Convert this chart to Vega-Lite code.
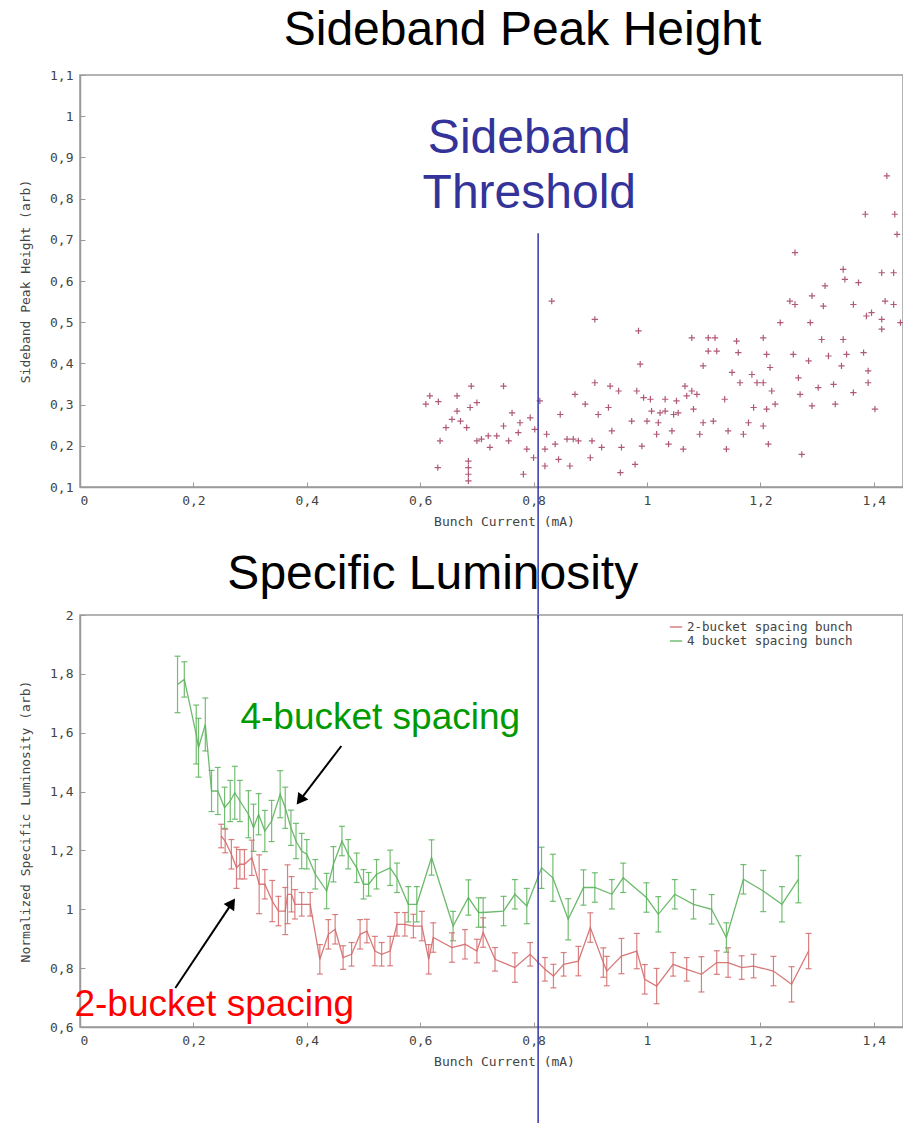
{
  "$schema": "https://vega.github.io/schema/vega-lite/v6.json",
  "padding": {"left": 18, "top": 6, "right": 0, "bottom": 0},
  "bounds": "flush",
  "spacing": 128,
  "background": "white",
  "config": {
    "view": {"stroke": "#9a9a9a", "strokeWidth": 1.5},
    "axis": {
      "grid": false,
      "domainColor": "#9a9a9a",
      "domainWidth": 1.5,
      "tickColor": "#9a9a9a",
      "tickSize": -5,
      "labelFont": "DejaVu Sans Mono",
      "labelFontSize": 13,
      "labelColor": "#444",
      "labelPadding": 12,
      "titleFont": "DejaVu Sans Mono",
      "titleFontSize": 13,
      "titleFontWeight": "normal",
      "titleColor": "#444",
      "labelExpr": "replace(format(datum.value, '~g'), '.', ',')"
    },
    "axisX": {"titleX": 424, "titleY": 34, "titleBaseline": "middle", "titleAlign": "center"},
    "axisY": {"titlePadding": 17}
  },
  "datasets": {
    "sideband": [
      {"current":0.617,"height":0.321},{"current":0.610,"height":0.301},{"current":0.632,"height":0.307},{"current":0.6455,"height":0.244},{"current":0.635,"height":0.212},{"current":0.631,"height":0.147},
      {"current":0.656,"height":0.264},{"current":0.665,"height":0.321},{"current":0.665,"height":0.284},{"current":0.671,"height":0.260},{"current":0.682,"height":0.244},{"current":0.688,"height":0.293},{"current":0.690,"height":0.345},{"current":0.700,"height":0.305},{"current":0.685,"height":0.163},{"current":0.685,"height":0.147},{"current":0.685,"height":0.131},{"current":0.685,"height":0.115},{"current":0.700,"height":0.212},{"current":0.708,"height":0.216},{"current":0.723,"height":0.196},{"current":0.720,"height":0.224},{"current":0.735,"height":0.224},{"current":0.747,"height":0.345},{"current":0.747,"height":0.248},{"current":0.756,"height":0.212},{"current":0.762,"height":0.280},{"current":0.773,"height":0.232},{"current":0.776,"height":0.256},{"current":0.782,"height":0.131},{"current":0.788,"height":0.192},{"current":0.794,"height":0.268},{"current":0.800,"height":0.171},{"current":0.802,"height":0.240},{"current":0.811,"height":0.309},{"current":0.820,"height":0.192},{"current":0.820,"height":0.151},{"current":0.823,"height":0.228},{"current":0.832,"height":0.551},{"current":0.838,"height":0.204},{"current":0.844,"height":0.167},{"current":0.847,"height":0.276},{"current":0.859,"height":0.216},{"current":0.864,"height":0.151},{"current":0.870,"height":0.216},{"current":0.873,"height":0.325},{"current":0.879,"height":0.212},{"current":0.891,"height":0.301},{"current":0.900,"height":0.171},{"current":0.903,"height":0.212},{"current":0.908,"height":0.507},{"current":0.908,"height":0.353},{"current":0.914,"height":0.276},{"current":0.920,"height":0.196},{"current":0.932,"height":0.293},{"current":0.935,"height":0.345},{"current":0.938,"height":0.236},{"current":0.950,"height":0.333},{"current":0.953,"height":0.135},{"current":0.955,"height":0.196},{"current":0.973,"height":0.260},{"current":0.979,"height":0.155},{"current":0.982,"height":0.333},{"current":0.985,"height":0.479},{"current":0.988,"height":0.398},{"current":0.991,"height":0.199},{"current":0.994,"height":0.317},{"current":1.000,"height":0.260},{"current":1.006,"height":0.313},{"current":1.008,"height":0.284},{"current":1.017,"height":0.228},{"current":1.020,"height":0.256},{"current":1.023,"height":0.280},{"current":1.032,"height":0.313},{"current":1.032,"height":0.284},{"current":1.038,"height":0.204},{"current":1.044,"height":0.236},{"current":1.047,"height":0.276},{"current":1.052,"height":0.309},{"current":1.055,"height":0.280},{"current":1.064,"height":0.192},{"current":1.067,"height":0.345},{"current":1.070,"height":0.321},{"current":1.079,"height":0.462},{"current":1.079,"height":0.333},{"current":1.082,"height":0.289},{"current":1.088,"height":0.325},{"current":1.093,"height":0.228},{"current":1.099,"height":0.394},{"current":1.099,"height":0.256},{"current":1.108,"height":0.462},{"current":1.108,"height":0.430},{"current":1.117,"height":0.260},{"current":1.120,"height":0.462},{"current":1.123,"height":0.430},{"current":1.137,"height":0.313},{"current":1.140,"height":0.192},{"current":1.143,"height":0.236},{"current":1.150,"height":0.378},{"current":1.158,"height":0.454},{"current":1.161,"height":0.426},{"current":1.164,"height":0.353},{"current":1.170,"height":0.228},{"current":1.179,"height":0.256},{"current":1.185,"height":0.373},{"current":1.188,"height":0.293},{"current":1.194,"height":0.353},{"current":1.205,"height":0.462},{"current":1.205,"height":0.353},{"current":1.205,"height":0.248},{"current":1.211,"height":0.422},{"current":1.211,"height":0.289},{"current":1.214,"height":0.204},{"current":1.217,"height":0.390},{"current":1.220,"height":0.333},{"current":1.226,"height":0.301},{"current":1.235,"height":0.499},{"current":1.252,"height":0.551},{"current":1.261,"height":0.543},{"current":1.261,"height":0.669},{"current":1.258,"height":0.422},{"current":1.267,"height":0.365},{"current":1.270,"height":0.325},{"current":1.273,"height":0.179},{"current":1.285,"height":0.406},{"current":1.288,"height":0.499},{"current":1.291,"height":0.564},{"current":1.291,"height":0.297},{"current":1.302,"height":0.341},{"current":1.308,"height":0.458},{"current":1.311,"height":0.539},{"current":1.314,"height":0.588},{"current":1.320,"height":0.418},{"current":1.329,"height":0.349},{"current":1.332,"height":0.301},{"current":1.343,"height":0.394},{"current":1.346,"height":0.628},{"current":1.346,"height":0.458},{"current":1.349,"height":0.604},{"current":1.352,"height":0.422},{"current":1.364,"height":0.543},{"current":1.364,"height":0.329},{"current":1.373,"height":0.596},{"current":1.382,"height":0.426},{"current":1.385,"height":0.762},{"current":1.387,"height":0.515},{"current":1.390,"height":0.382},{"current":1.390,"height":0.353},{"current":1.396,"height":0.523},{"current":1.402,"height":0.289},{"current":1.414,"height":0.620},{"current":1.414,"height":0.507},{"current":1.414,"height":0.483},{"current":1.420,"height":0.551},{"current":1.423,"height":0.855},{"current":1.435,"height":0.620},{"current":1.435,"height":0.543},{"current":1.437,"height":0.762},{"current":1.441,"height":0.713},{"current":1.447,"height":0.499}
    ],
    "lum": [
      {"series":"4 bucket spacing bunch","current":0.172,"lum":1.764,"err":0.096},
      {"series":"4 bucket spacing bunch","current":0.184,"lum":1.781,"err":0.06},
      {"series":"4 bucket spacing bunch","current":0.205,"lum":1.594,"err":0.1},
      {"series":"4 bucket spacing bunch","current":0.209,"lum":1.549,"err":0.1},
      {"series":"4 bucket spacing bunch","current":0.221,"lum":1.628,"err":0.09},
      {"series":"4 bucket spacing bunch","current":0.232,"lum":1.402,"err":0.07},
      {"series":"4 bucket spacing bunch","current":0.243,"lum":1.402,"err":0.08},
      {"series":"4 bucket spacing bunch","current":0.255,"lum":1.345,"err":0.07},
      {"series":"4 bucket spacing bunch","current":0.265,"lum":1.368,"err":0.07},
      {"series":"4 bucket spacing bunch","current":0.273,"lum":1.396,"err":0.09},
      {"series":"4 bucket spacing bunch","current":0.282,"lum":1.368,"err":0.07},
      {"series":"4 bucket spacing bunch","current":0.297,"lum":1.323,"err":0.08},
      {"series":"4 bucket spacing bunch","current":0.306,"lum":1.277,"err":0.08},
      {"series":"4 bucket spacing bunch","current":0.315,"lum":1.323,"err":0.07},
      {"series":"4 bucket spacing bunch","current":0.326,"lum":1.266,"err":0.07},
      {"series":"4 bucket spacing bunch","current":0.338,"lum":1.300,"err":0.07},
      {"series":"4 bucket spacing bunch","current":0.353,"lum":1.391,"err":0.08},
      {"series":"4 bucket spacing bunch","current":0.362,"lum":1.345,"err":0.07},
      {"series":"4 bucket spacing bunch","current":0.372,"lum":1.277,"err":0.06},
      {"series":"4 bucket spacing bunch","current":0.381,"lum":1.232,"err":0.06},
      {"series":"4 bucket spacing bunch","current":0.391,"lum":1.198,"err":0.06},
      {"series":"4 bucket spacing bunch","current":0.400,"lum":1.187,"err":0.05},
      {"series":"4 bucket spacing bunch","current":0.415,"lum":1.119,"err":0.05},
      {"series":"4 bucket spacing bunch","current":0.435,"lum":1.062,"err":0.06},
      {"series":"4 bucket spacing bunch","current":0.447,"lum":1.153,"err":0.06},
      {"series":"4 bucket spacing bunch","current":0.462,"lum":1.232,"err":0.05},
      {"series":"4 bucket spacing bunch","current":0.473,"lum":1.187,"err":0.05},
      {"series":"4 bucket spacing bunch","current":0.488,"lum":1.141,"err":0.05},
      {"series":"4 bucket spacing bunch","current":0.500,"lum":1.085,"err":0.05},
      {"series":"4 bucket spacing bunch","current":0.509,"lum":1.085,"err":0.04},
      {"series":"4 bucket spacing bunch","current":0.523,"lum":1.119,"err":0.05},
      {"series":"4 bucket spacing bunch","current":0.547,"lum":1.141,"err":0.06},
      {"series":"4 bucket spacing bunch","current":0.559,"lum":1.107,"err":0.05},
      {"series":"4 bucket spacing bunch","current":0.579,"lum":1.017,"err":0.06},
      {"series":"4 bucket spacing bunch","current":0.594,"lum":1.017,"err":0.06},
      {"series":"4 bucket spacing bunch","current":0.620,"lum":1.176,"err":0.06},
      {"series":"4 bucket spacing bunch","current":0.658,"lum":0.943,"err":0.05},
      {"series":"4 bucket spacing bunch","current":0.685,"lum":1.040,"err":0.06},
      {"series":"4 bucket spacing bunch","current":0.703,"lum":0.989,"err":0.05},
      {"series":"4 bucket spacing bunch","current":0.711,"lum":0.989,"err":0.05},
      {"series":"4 bucket spacing bunch","current":0.747,"lum":0.994,"err":0.05},
      {"series":"4 bucket spacing bunch","current":0.767,"lum":1.051,"err":0.05},
      {"series":"4 bucket spacing bunch","current":0.788,"lum":1.011,"err":0.06},
      {"series":"4 bucket spacing bunch","current":0.814,"lum":1.141,"err":0.07},
      {"series":"4 bucket spacing bunch","current":0.834,"lum":1.107,"err":0.08},
      {"series":"4 bucket spacing bunch","current":0.861,"lum":0.966,"err":0.07},
      {"series":"4 bucket spacing bunch","current":0.888,"lum":1.074,"err":0.06},
      {"series":"4 bucket spacing bunch","current":0.908,"lum":1.074,"err":0.05},
      {"series":"4 bucket spacing bunch","current":0.938,"lum":1.051,"err":0.05},
      {"series":"4 bucket spacing bunch","current":0.958,"lum":1.107,"err":0.05},
      {"series":"4 bucket spacing bunch","current":0.999,"lum":1.040,"err":0.05},
      {"series":"4 bucket spacing bunch","current":1.020,"lum":0.983,"err":0.06},
      {"series":"4 bucket spacing bunch","current":1.049,"lum":1.051,"err":0.05},
      {"series":"4 bucket spacing bunch","current":1.082,"lum":1.017,"err":0.05},
      {"series":"4 bucket spacing bunch","current":1.114,"lum":1.000,"err":0.05},
      {"series":"4 bucket spacing bunch","current":1.140,"lum":0.904,"err":0.05},
      {"series":"4 bucket spacing bunch","current":1.170,"lum":1.102,"err":0.05},
      {"series":"4 bucket spacing bunch","current":1.205,"lum":1.062,"err":0.07},
      {"series":"4 bucket spacing bunch","current":1.238,"lum":1.017,"err":0.06},
      {"series":"4 bucket spacing bunch","current":1.267,"lum":1.102,"err":0.08},
      {"series":"2-bucket spacing bunch","current":0.249,"lum":1.249,"err":0.04},
      {"series":"2-bucket spacing bunch","current":0.256,"lum":1.232,"err":0.04},
      {"series":"2-bucket spacing bunch","current":0.267,"lum":1.187,"err":0.05},
      {"series":"2-bucket spacing bunch","current":0.276,"lum":1.141,"err":0.07},
      {"series":"2-bucket spacing bunch","current":0.282,"lum":1.153,"err":0.05},
      {"series":"2-bucket spacing bunch","current":0.290,"lum":1.153,"err":0.05},
      {"series":"2-bucket spacing bunch","current":0.303,"lum":1.175,"err":0.06},
      {"series":"2-bucket spacing bunch","current":0.316,"lum":1.085,"err":0.10},
      {"series":"2-bucket spacing bunch","current":0.326,"lum":1.085,"err":0.05},
      {"series":"2-bucket spacing bunch","current":0.339,"lum":1.028,"err":0.07},
      {"series":"2-bucket spacing bunch","current":0.350,"lum":0.994,"err":0.05},
      {"series":"2-bucket spacing bunch","current":0.362,"lum":0.994,"err":0.08},
      {"series":"2-bucket spacing bunch","current":0.366,"lum":1.051,"err":0.10},
      {"series":"2-bucket spacing bunch","current":0.373,"lum":1.051,"err":0.06},
      {"series":"2-bucket spacing bunch","current":0.379,"lum":1.017,"err":0.05},
      {"series":"2-bucket spacing bunch","current":0.391,"lum":1.017,"err":0.04},
      {"series":"2-bucket spacing bunch","current":0.406,"lum":1.017,"err":0.04},
      {"series":"2-bucket spacing bunch","current":0.423,"lum":0.830,"err":0.05},
      {"series":"2-bucket spacing bunch","current":0.438,"lum":0.915,"err":0.05},
      {"series":"2-bucket spacing bunch","current":0.450,"lum":0.932,"err":0.05},
      {"series":"2-bucket spacing bunch","current":0.464,"lum":0.836,"err":0.04},
      {"series":"2-bucket spacing bunch","current":0.479,"lum":0.847,"err":0.04},
      {"series":"2-bucket spacing bunch","current":0.494,"lum":0.915,"err":0.05},
      {"series":"2-bucket spacing bunch","current":0.506,"lum":0.926,"err":0.04},
      {"series":"2-bucket spacing bunch","current":0.520,"lum":0.858,"err":0.05},
      {"series":"2-bucket spacing bunch","current":0.532,"lum":0.847,"err":0.04},
      {"series":"2-bucket spacing bunch","current":0.547,"lum":0.858,"err":0.05},
      {"series":"2-bucket spacing bunch","current":0.559,"lum":0.949,"err":0.04},
      {"series":"2-bucket spacing bunch","current":0.573,"lum":0.949,"err":0.04},
      {"series":"2-bucket spacing bunch","current":0.588,"lum":0.943,"err":0.04},
      {"series":"2-bucket spacing bunch","current":0.603,"lum":0.943,"err":0.05},
      {"series":"2-bucket spacing bunch","current":0.615,"lum":0.830,"err":0.05},
      {"series":"2-bucket spacing bunch","current":0.623,"lum":0.904,"err":0.05},
      {"series":"2-bucket spacing bunch","current":0.656,"lum":0.870,"err":0.05},
      {"series":"2-bucket spacing bunch","current":0.679,"lum":0.881,"err":0.05},
      {"series":"2-bucket spacing bunch","current":0.700,"lum":0.858,"err":0.04},
      {"series":"2-bucket spacing bunch","current":0.711,"lum":0.921,"err":0.05},
      {"series":"2-bucket spacing bunch","current":0.732,"lum":0.830,"err":0.04},
      {"series":"2-bucket spacing bunch","current":0.767,"lum":0.802,"err":0.05},
      {"series":"2-bucket spacing bunch","current":0.794,"lum":0.847,"err":0.04},
      {"series":"2-bucket spacing bunch","current":0.820,"lum":0.796,"err":0.04},
      {"series":"2-bucket spacing bunch","current":0.835,"lum":0.773,"err":0.04},
      {"series":"2-bucket spacing bunch","current":0.853,"lum":0.813,"err":0.04},
      {"series":"2-bucket spacing bunch","current":0.879,"lum":0.824,"err":0.05},
      {"series":"2-bucket spacing bunch","current":0.900,"lum":0.938,"err":0.05},
      {"series":"2-bucket spacing bunch","current":0.923,"lum":0.819,"err":0.05},
      {"series":"2-bucket spacing bunch","current":0.929,"lum":0.790,"err":0.05},
      {"series":"2-bucket spacing bunch","current":0.955,"lum":0.841,"err":0.06},
      {"series":"2-bucket spacing bunch","current":0.982,"lum":0.858,"err":0.06},
      {"series":"2-bucket spacing bunch","current":0.996,"lum":0.762,"err":0.05},
      {"series":"2-bucket spacing bunch","current":1.017,"lum":0.739,"err":0.06},
      {"series":"2-bucket spacing bunch","current":1.046,"lum":0.813,"err":0.04},
      {"series":"2-bucket spacing bunch","current":1.070,"lum":0.796,"err":0.04},
      {"series":"2-bucket spacing bunch","current":1.096,"lum":0.779,"err":0.06},
      {"series":"2-bucket spacing bunch","current":1.123,"lum":0.819,"err":0.04},
      {"series":"2-bucket spacing bunch","current":1.143,"lum":0.819,"err":0.05},
      {"series":"2-bucket spacing bunch","current":1.167,"lum":0.802,"err":0.04},
      {"series":"2-bucket spacing bunch","current":1.188,"lum":0.807,"err":0.04},
      {"series":"2-bucket spacing bunch","current":1.223,"lum":0.790,"err":0.05},
      {"series":"2-bucket spacing bunch","current":1.255,"lum":0.745,"err":0.06},
      {"series":"2-bucket spacing bunch","current":1.285,"lum":0.858,"err":0.06}
    ],
    "headings": [
      {"panel": "top", "label": "Sideband Peak Height", "x": 0.7805, "y": 1.1728},
      {"panel": "bottom", "label": "Specific Luminosity", "x": 0.6222, "y": 2.0883}
    ],
    "thresholdTop": [{"current": 0.808, "from": 0.716, "to": -0.22, "label": "Sideband\nThreshold", "labelX": 0.7924, "labelY": 0.9107}],
    "thresholdBottom": [{"current": 0.808, "from": 2, "to": 0.2}],
    "notes": [
      {"label": "4-bucket spacing", "series": "4", "x": 0.5296, "y": 1.6126},
      {"label": "2-bucket spacing", "series": "2", "x": 0.2369, "y": 0.6374}
    ],
    "arrows": [
      {"x": 0.4609, "y": 1.5549, "x2": 0.388, "y2": 1.371, "angle": 217},
      {"x": 0.1681, "y": 0.7326, "x2": 0.268, "y2": 1.021, "angle": 34}
    ]
  },
  "vconcat": [
    {
      "width": 823,
      "height": 412,
      "layer": [
        {
          "data": {"name": "sideband"},
          "mark": {"type": "point", "shape": "M-1,0L1,0M0,-1L0,1", "filled": false, "size": 40, "strokeWidth": 1.2, "color": "#a84868", "opacity": 0.9, "clip": true},
          "encoding": {
            "x": {"field": "current", "type": "quantitative", "scale": {"domain": [0, 1.4515], "nice": false, "zero": false},
                  "axis": {"title": "Bunch Current (mA)", "values": [0, 0.2, 0.4, 0.6, 0.8, 1, 1.2, 1.4]}},
            "y": {"field": "height", "type": "quantitative", "scale": {"domain": [0.1, 1.1], "nice": false, "zero": false},
                  "axis": {"title": "Sideband Peak Height (arb)", "values": [0.1, 0.2, 0.3, 0.4, 0.5, 0.6, 0.7, 0.8, 0.9, 1, 1.1]}}
          }
        },
        {
          "data": {"name": "thresholdTop"},
          "mark": {"type": "rule", "color": "#3535a8", "strokeWidth": 1.5, "clip": false},
          "encoding": {
            "x": {"field": "current", "type": "quantitative"},
            "y": {"field": "from", "type": "quantitative"},
            "y2": {"field": "to"}
          }
        },
        {
          "data": {"name": "thresholdTop"},
          "mark": {"type": "text", "font": "Liberation Sans", "fontSize": 48, "color": "#333399", "align": "center", "baseline": "alphabetic", "lineBreak": "\n", "lineHeight": 55, "clip": false},
          "encoding": {
            "x": {"field": "labelX", "type": "quantitative"},
            "y": {"field": "labelY", "type": "quantitative"},
            "text": {"field": "label"}
          }
        },
        {
          "data": {"name": "headings"},
          "transform": [{"filter": "datum.panel == 'top'"}],
          "mark": {"type": "text", "font": "Liberation Sans", "fontSize": 48, "color": "#000", "align": "center", "baseline": "alphabetic", "clip": false},
          "encoding": {
            "x": {"field": "x", "type": "quantitative"},
            "y": {"field": "y", "type": "quantitative"},
            "text": {"field": "label"}
          }
        }
      ]
    },
    {
      "width": 823,
      "height": 412,
      "layer": [
        {
          "data": {"name": "lum"},
          "mark": {"type": "errorbar", "ticks": {"size": 6}, "thickness": 1.2, "opacity": 0.85},
          "encoding": {
            "x": {"field": "current", "type": "quantitative", "scale": {"domain": [0, 1.4515], "nice": false, "zero": false},
                  "axis": {"title": "Bunch Current (mA)", "values": [0, 0.2, 0.4, 0.6, 0.8, 1, 1.2, 1.4]}},
            "y": {"field": "lum", "type": "quantitative", "scale": {"domain": [0.6, 2], "nice": false, "zero": false},
                  "axis": {"title": "Normalized Specific Luminosity (arb)", "values": [0.6, 0.8, 1, 1.2, 1.4, 1.6, 1.8, 2]}},
            "yError": {"field": "err"},
            "color": {"field": "series", "type": "nominal", "title": null, "scale": {"domain": ["2-bucket spacing bunch", "4 bucket spacing bunch"], "range": ["#d46a6a", "#5cb35c"]}}
          }
        },
        {
          "data": {"name": "lum"},
          "mark": {"type": "line", "strokeWidth": 1.3, "opacity": 0.9},
          "encoding": {
            "x": {"field": "current", "type": "quantitative"},
            "y": {"field": "lum", "type": "quantitative"},
            "color": {"field": "series", "type": "nominal", "title": null,
                      "legend": {"orient": "none", "legendX": 589, "legendY": 545, "symbolType": "stroke", "symbolSize": 150, "symbolStrokeWidth": 1.5, "labelFont": "DejaVu Sans Mono", "labelFontSize": 12.5, "labelColor": "#444", "labelLimit": 400, "rowPadding": 0}}
          }
        },
        {
          "data": {"name": "thresholdBottom"},
          "mark": {"type": "rule", "color": "#3535a8", "strokeWidth": 1.5, "clip": false},
          "encoding": {
            "x": {"field": "current", "type": "quantitative"},
            "y": {"field": "from", "type": "quantitative"},
            "y2": {"field": "to"}
          }
        },
        {
          "data": {"name": "headings"},
          "transform": [{"filter": "datum.panel == 'bottom'"}],
          "mark": {"type": "text", "font": "Liberation Sans", "fontSize": 48, "color": "#000", "align": "center", "baseline": "alphabetic", "clip": false},
          "encoding": {
            "x": {"field": "x", "type": "quantitative"},
            "y": {"field": "y", "type": "quantitative"},
            "text": {"field": "label"}
          }
        },
        {
          "data": {"name": "notes"},
          "transform": [{"filter": "datum.series == '4'"}],
          "mark": {"type": "text", "font": "Liberation Sans", "fontSize": 37, "color": "#009a00", "align": "center", "baseline": "alphabetic", "clip": false},
          "encoding": {
            "x": {"field": "x", "type": "quantitative"},
            "y": {"field": "y", "type": "quantitative"},
            "text": {"field": "label"}
          }
        },
        {
          "data": {"name": "notes"},
          "transform": [{"filter": "datum.series == '2'"}],
          "mark": {"type": "text", "font": "Liberation Sans", "fontSize": 37, "color": "#ff0000", "align": "center", "baseline": "alphabetic", "clip": false},
          "encoding": {
            "x": {"field": "x", "type": "quantitative"},
            "y": {"field": "y", "type": "quantitative"},
            "text": {"field": "label"}
          }
        },
        {
          "data": {"name": "arrows"},
          "mark": {"type": "rule", "color": "#000", "strokeWidth": 2, "clip": false},
          "encoding": {
            "x": {"field": "x", "type": "quantitative"},
            "y": {"field": "y", "type": "quantitative"},
            "x2": {"field": "x2"},
            "y2": {"field": "y2"}
          }
        },
        {
          "data": {"name": "arrows"},
          "mark": {"type": "point", "shape": "triangle-up", "filled": true, "color": "#000", "size": 160, "opacity": 1, "clip": false},
          "encoding": {
            "x": {"field": "x2", "type": "quantitative"},
            "y": {"field": "y2", "type": "quantitative"},
            "angle": {"field": "angle", "type": "quantitative", "scale": null}
          }
        }
      ]
    }
  ]
}
